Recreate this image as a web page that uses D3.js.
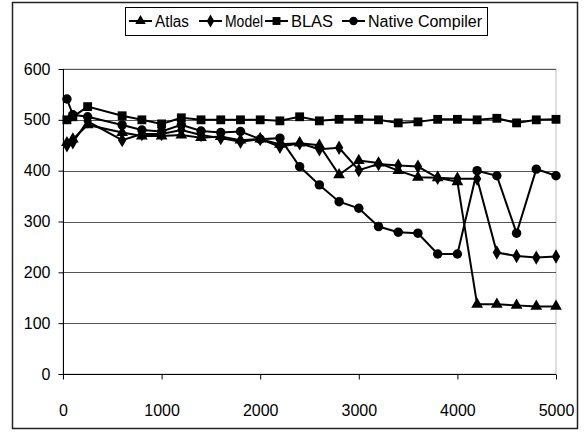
<!DOCTYPE html>
<html>
<head>
<meta charset="utf-8">
<script src="https://cdn.jsdelivr.net/npm/d3@7"></script>
<style>
  body { margin: 0; background: #fff; }
  text { font-family: "Liberation Sans", Arial, sans-serif; font-size: 16px; fill: #000; }
</style>
</head>
<body>
<div id="chart"></div>
<script>
// matrix sizes on the x axis
var sizes = [40, 100, 250, 600, 800, 1000, 1200, 1400, 1600, 1800, 2000, 2200, 2400,
  2600, 2800, 3000, 3200, 3400, 3600, 3800, 4000, 4200, 4400, 4600, 4800, 5000];

var atlas = [455, 462, 490, 475, 468, 468, 470, 465, 467, 460, 462, 452, 454,
  450, 392, 420, 415, 400, 387, 386, 378, 137, 137, 135, 133, 133];
var model = [450, 456, 497, 460, 472, 472, 480, 470, 464, 457, 462, 447, 454,
  442, 445, 401, 413, 410, 408, 386, 384, 384, 239, 232, 229, 231];
var blas = [500, 506, 526, 508, 500, 492, 504, 500, 500, 500, 500, 498, 506,
  498, 501, 501, 500, 494, 496, 501, 501, 500, 503, 494, 500, 501];
var nativeComp = [541, 510, 506, 490, 480, 477, 490, 478, 475, 477, 462, 464, 408,
  372, 339, 326, 290, 279, 277, 236, 236, 400, 390, 277, 403, 390];

var seriesNames = ["Atlas", "Model", "BLAS", "Native Compiler"];
var xTicks = [0, 1000, 2000, 3000, 4000, 5000];
var yTicks = [0, 100, 200, 300, 400, 500, 600];

var width = 584, height = 435;
var margin = {top: 69, right: 28, bottom: 61, left: 63};

var svg = d3.select("#chart")
  .append("svg")
    .attr("width", width)
    .attr("height", height);

// outer chart frame
svg.append("rect")
  .attr("x", 12.5).attr("y", 2.5)
  .attr("width", 565).attr("height", 426)
  .attr("fill", "none")
  .attr("stroke", "#222")
  .attr("stroke-width", 1.5);

var x = d3.scaleLinear().domain([0, 5000]).range([margin.left, width - margin.right]);
var y = d3.scaleLinear().domain([0, 600]).range([height - margin.bottom, margin.top]);

// plot area border (light grey)
svg.append("rect")
  .attr("x", x(0)).attr("y", y(600))
  .attr("width", x(5000) - x(0)).attr("height", y(0) - y(600))
  .attr("fill", "none")
  .attr("stroke", "#bdbdbd")
  .attr("stroke-width", 1);

// horizontal gridlines
svg.append("g")
  .selectAll("line")
  .data(yTicks.filter(function(d) { return d > 0; }))
  .enter().append("line")
    .attr("x1", x(0)).attr("x2", x(5000))
    .attr("y1", function(d) { return Math.round(y(d)) + 0.5; })
    .attr("y2", function(d) { return Math.round(y(d)) + 0.5; })
    .attr("stroke", "#555")
    .attr("stroke-width", 1);

// axes
var xAxis = svg.append("g")
  .attr("transform", "translate(0," + (Math.round(y(0)) + 0.5) + ")")
  .call(d3.axisBottom(x).tickValues(xTicks).tickSize(5).tickPadding(25).tickFormat(d3.format("d")));
var yAxis = svg.append("g")
  .attr("transform", "translate(" + (Math.round(x(0)) + 0.5) + ",0)")
  .call(d3.axisLeft(y).tickValues(yTicks).tickSize(5).tickPadding(8).tickFormat(d3.format("d")));

[xAxis, yAxis].forEach(function(ax) {
  ax.select(".domain").attr("stroke", "#000").attr("stroke-width", 1);
  ax.selectAll(".tick line").attr("stroke", "#000");
  ax.selectAll("text")
    .style("font-family", "'Liberation Sans', Arial, sans-serif")
    .style("font-size", "16px")
    .attr("fill", "#000");
});
// drop the outer ticks of the domain paths
yAxis.select(".domain").attr("d", "M0," + y(600) + "V" + y(0));
xAxis.select(".domain").attr("d", "M" + x(0) + ",0H" + x(5000));

var symbols = [d3.symbolTriangle, d3.symbolDiamond, d3.symbolSquare, d3.symbolCircle];
var symSizes = [60, 60, 78, 70];
var allSeries = [atlas, model, blas, nativeComp];

var line = d3.line()
  .x(function(d) { return x(d[0]); })
  .y(function(d) { return y(d[1]); });

allSeries.forEach(function(vals, i) {
  var pts = sizes.map(function(s, j) { return [s, vals[j]]; });
  var g = svg.append("g");
  g.append("path")
    .datum(pts)
    .attr("d", line)
    .attr("fill", "none")
    .attr("stroke", "#000")
    .attr("stroke-width", 2);
  g.selectAll("path.mark")
    .data(pts)
    .enter().append("path")
      .attr("class", "mark")
      .attr("transform", function(d) { return "translate(" + x(d[0]) + "," + y(d[1]) + ")"; })
      .attr("d", d3.symbol().type(symbols[i]).size(symSizes[i]))
      .attr("fill", "#000");
});

// legend
var legend = svg.append("g");
legend.append("rect")
  .attr("x", 125.5).attr("y", 7.5)
  .attr("width", 362).attr("height", 28)
  .attr("fill", "#fff")
  .attr("stroke", "#000")
  .attr("stroke-width", 1);

var legX = [129, 199, 265, 342];
var legTextW = [34, 38, 42, 114];
seriesNames.forEach(function(name, i) {
  var lg = legend.append("g").attr("transform", "translate(" + legX[i] + ",21)");
  lg.append("line")
    .attr("x1", 0).attr("x2", 23)
    .attr("y1", 0).attr("y2", 0)
    .attr("stroke", "#000").attr("stroke-width", 2);
  lg.append("path")
    .attr("transform", "translate(11.5,0)")
    .attr("d", d3.symbol().type(symbols[i]).size(symSizes[i] * 0.8))
    .attr("fill", "#000");
  lg.append("text")
    .attr("x", 26).attr("y", 0)
    .attr("dy", "0.35em")
    .attr("textLength", legTextW[i])
    .attr("lengthAdjust", "spacingAndGlyphs")
    .text(name);
});
</script>
</body>
</html>
